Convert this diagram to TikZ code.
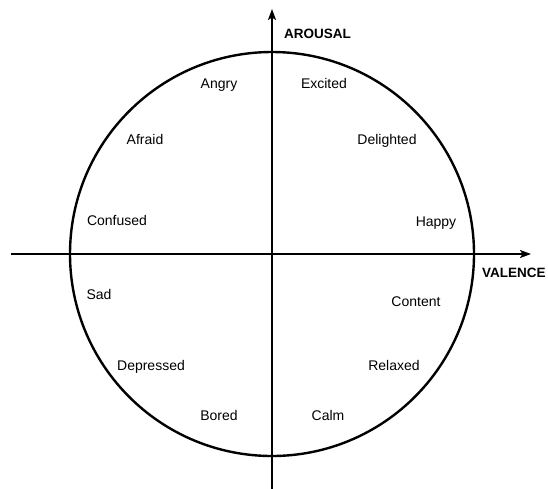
\documentclass[tikz,border=0pt]{standalone}
\usepackage{fontspec}
\setmainfont{Liberation Sans}
\usepackage{tikz}
\usetikzlibrary{arrows.meta}

\begin{document}
\begin{tikzpicture}[
  x=1pt, y=-1pt,
  font=\fontsize{14}{16}\selectfont,
  emo/.style={anchor=base,inner sep=0pt},
  axlabel/.style={anchor=base west,inner sep=0pt,font=\fontsize{13.5}{16}\selectfont\bfseries},
  axis/.style={line width=1.8pt,-{Stealth[length=11pt,width=8pt,inset=2.5pt]}},
]
\useasboundingbox (0,0) rectangle (548,488);
% circumplex
\coordinate (o) at (272,254);
\draw[line width=2.4pt] (o) circle[radius=202pt];

% axes
\coordinate (vbot) at (272,490);
\coordinate (vtop) at (272,9);
\coordinate (hleft) at (11,254);
\coordinate (hright) at (531,254);
\draw[axis] (vbot) -- (vtop);
\draw[axis] (hleft) -- (hright);
\node[axlabel] (arousal) at (284,38) {AROUSAL};
\node[axlabel] (valence) at (482,277) {VALENCE};

% quadrant I
\node[emo] (excited) at (324,88) {Excited};
\node[emo] (delighted) at (387,144) {Delighted};
\node[emo] (happy) at (436,226) {Happy};
% quadrant II
\node[emo] (angry) at (219,88) {Angry};
\node[emo] (afraid) at (145,144) {Afraid};
\node[emo] (confused) at (117,225) {Confused};
% quadrant III
\node[emo] (sad) at (99,299) {Sad};
\node[emo] (depressed) at (151,370) {Depressed};
\node[emo] (bored) at (219,420) {Bored};
% quadrant IV
\node[emo] (content) at (416,306) {Content};
\node[emo] (relaxed) at (394,370) {Relaxed};
\node[emo] (calm) at (328,420) {Calm};
\end{tikzpicture}
\end{document}
